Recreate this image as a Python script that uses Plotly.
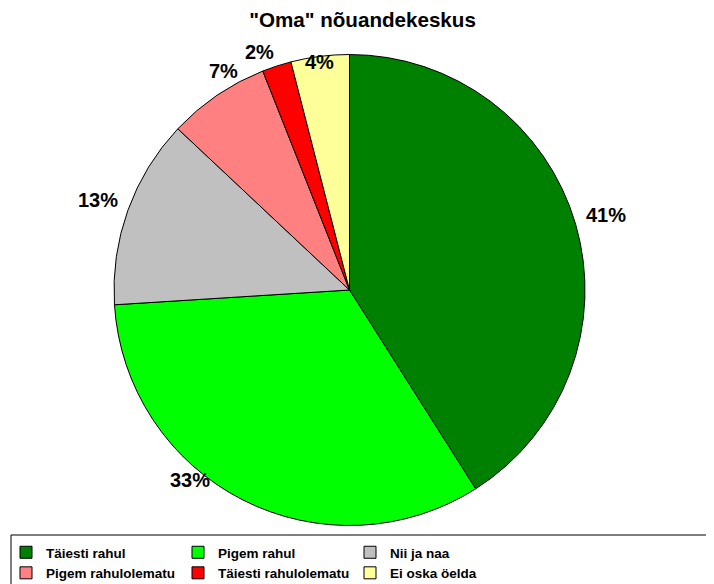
import math
import plotly.graph_objects as go

# ---- data ----
categories = ["Täiesti rahul", "Pigem rahul", "Nii ja naa",
              "Pigem rahulolematu", "Täiesti rahulolematu", "Ei oska öelda"]
values = [41, 33, 13, 7, 2, 4]
title_text = "\"Oma\" nõuandekeskus"

# ---- style ----
colors = ["#008000", "#00FF00", "#C0C0C0", "#FF8080", "#FF0000", "#FFFF99"]
OFF = 8                      # page body margin of the browser
W, H = 714 - OFF, 584 - OFF  # figure size so the page fills the window
MR, MB = 100, 52             # margins (keep legend at 3 columns, below plot)
PW, PH = W - MR, H - MB      # plot area in pixels
CX, CY, R = 349.5, 290.0, 235.5          # pie centre / radius (screen px)
LABEL_R = 265.0                           # label distance from centre
# per-label nudges (pixels) mimicking Excel's label placement
label_nudge = [(2, -1), (-39, -46), (-2, 0), (23, 0), (-8, 14), (3, 35)]
FONT = "Liberation Sans, Arial, sans-serif"


def fx(sx):
    return (sx - OFF) / PW


def fy(sy):
    return 1 - (sy - OFF) / PH


fig = go.Figure()
fig.add_trace(go.Pie(
    labels=categories,
    values=values,
    sort=False,
    direction="clockwise",
    rotation=0,
    textinfo="none",
    hoverinfo="label+percent",
    marker=dict(colors=colors, line=dict(color="#000000", width=1)),
    domain=dict(x=[fx(CX - R), fx(CX + R)],
                y=[fy(CY + R), fy(CY - R)]),
))

# percentage labels computed from the data
total = sum(values)
cum = 0.0
annotations = []
for v, (dx, dy) in zip(values, label_nudge):
    mid = (cum + v / 2) / total * 2 * math.pi
    cum += v
    px = CX + LABEL_R * math.sin(mid) + dx
    py = CY - LABEL_R * math.cos(mid) + dy
    annotations.append(dict(
        x=fx(px), y=fy(py), xref="paper", yref="paper",
        text=f"{round(v / total * 100)}%", showarrow=False,
        xanchor="center", yanchor="middle",
        font=dict(family=FONT, size=20, color="#000000", weight="bold"),
    ))

fig.update_layout(
    width=W, height=H,
    margin=dict(l=0, r=MR, t=0, b=MB, autoexpand=False),
    paper_bgcolor="#FFFFFF",
    plot_bgcolor="#FFFFFF",
    title=dict(text=title_text, x=fx(362.5), xanchor="center",
               y=fy(20), yanchor="middle", xref="paper", yref="paper",
               font=dict(family=FONT, size=20.6, color="#000000", weight="bold")),
    annotations=annotations,
    showlegend=True,
    legend=dict(
        orientation="h",
        x=fx(6), xanchor="left",
        y=fy(537), yanchor="top",
        bgcolor="rgba(0,0,0,0)",
        borderwidth=0,
        entrywidth=127,
        itemwidth=30,
        traceorder="normal",
        font=dict(family=FONT, size=13.5, color="#000000", weight="bold"),
    ),
    shapes=[dict(type="rect", xref="paper", yref="paper",
                 x0=fx(11), x1=fx(730), y0=fy(600), y1=fy(535),
                 line=dict(color="#000000", width=1), fillcolor="rgba(0,0,0,0)",
                 layer="below")],
)

fig.write_html("out.html")
